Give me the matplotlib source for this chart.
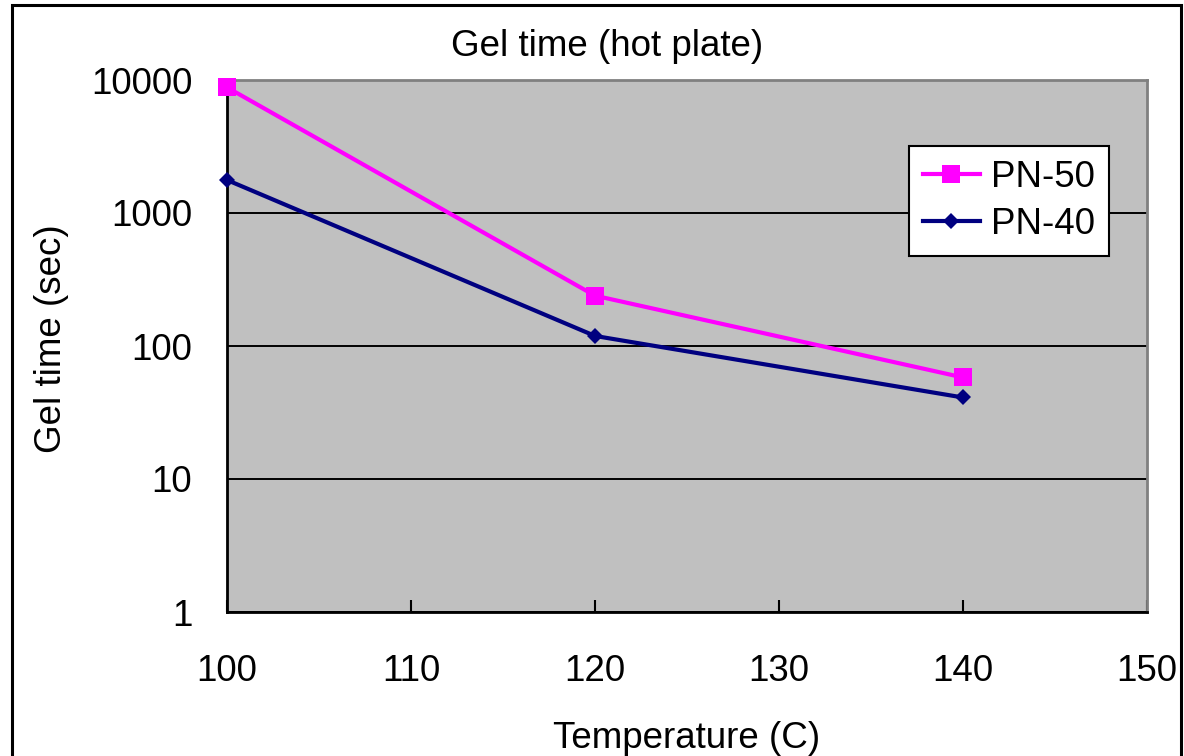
import matplotlib
matplotlib.use("Agg")
import matplotlib.pyplot as plt
from matplotlib.patches import Rectangle

# --- data ---
temperature = [100, 120, 140]
pn50_gel = [8800, 239, 58]
pn40_gel = [1770, 119, 41]

x_ticks = [100, 110, 120, 130, 140, 150]
y_ticks = [1, 10, 100, 1000, 10000]
y_tick_labels = ["1", "10", "100", "1000", "10000"]

plt.rcParams['font.family'] = ['Liberation Sans', 'DejaVu Sans']
FS = 26.5

fig = plt.figure(figsize=(11.84, 7.56), dpi=100)
ax = fig.add_axes([227 / 1184, 1 - 612 / 756, 920 / 1184, 532 / 756])

ax.set_facecolor('#C0C0C0')
ax.set_yscale('log')
ax.set_xlim(100, 150)
ax.set_ylim(1, 10000)

# horizontal gridlines like Excel
ax.yaxis.grid(True, color='black', linewidth=1.4)
ax.set_axisbelow(True)

ax.plot(temperature, pn50_gel, color='#FF00FF', linewidth=3, marker='s',
        markersize=13.5, markeredgewidth=0, label='PN-50', zorder=3, clip_on=False)
ax.plot(temperature, pn40_gel, color='#000080', linewidth=3, marker='D',
        markersize=8.5, markeredgewidth=0, label='PN-40', zorder=3, clip_on=False)

ax.set_xticks(x_ticks)
ax.set_xticklabels([str(t) for t in x_ticks], fontsize=FS)
ax.set_yticks(y_ticks)
ax.set_yticklabels(y_tick_labels, fontsize=FS)
ax.yaxis.set_minor_locator(matplotlib.ticker.NullLocator())

ax.tick_params(axis='x', direction='in', length=9, width=1.5, pad=30, colors='black')
ax.tick_params(axis='y', length=0, pad=25)

for side in ['left', 'bottom']:
    ax.spines[side].set_color('black')
    ax.spines[side].set_linewidth(2)
for side in ['top', 'right']:
    ax.spines[side].set_color('#808080')
    ax.spines[side].set_linewidth(2)

# Excel puts the title a bit left of the plot centre
fig.text(607 / 1184, 1 - 46 / 756, 'Gel time (hot plate)', fontsize=FS,
         ha='center', va='center')
ax.set_xlabel('Temperature (C)', fontsize=FS, labelpad=23)
ax.set_ylabel('Gel time (sec)', fontsize=FS)
ax.yaxis.set_label_coords(-0.172, (612 - 339) / 532)

leg = ax.legend(loc='upper left', bbox_to_anchor=(0.741, 0.876), fontsize=FS,
                frameon=True, fancybox=False, framealpha=1, edgecolor='black',
                handlelength=1.55, handletextpad=0.3, borderpad=0.38,
                labelspacing=0.32, borderaxespad=0)
leg.get_frame().set_linewidth(1.5)
leg.set_zorder(5)

# outer chart-area border
fig.patches.append(Rectangle((12 / 1184, -0.02), (1181 - 12) / 1184, 1 - 5 / 756 + 0.02,
                             transform=fig.transFigure, fill=False,
                             edgecolor='black', linewidth=2.2))

fig.savefig('out.png', dpi=100)
